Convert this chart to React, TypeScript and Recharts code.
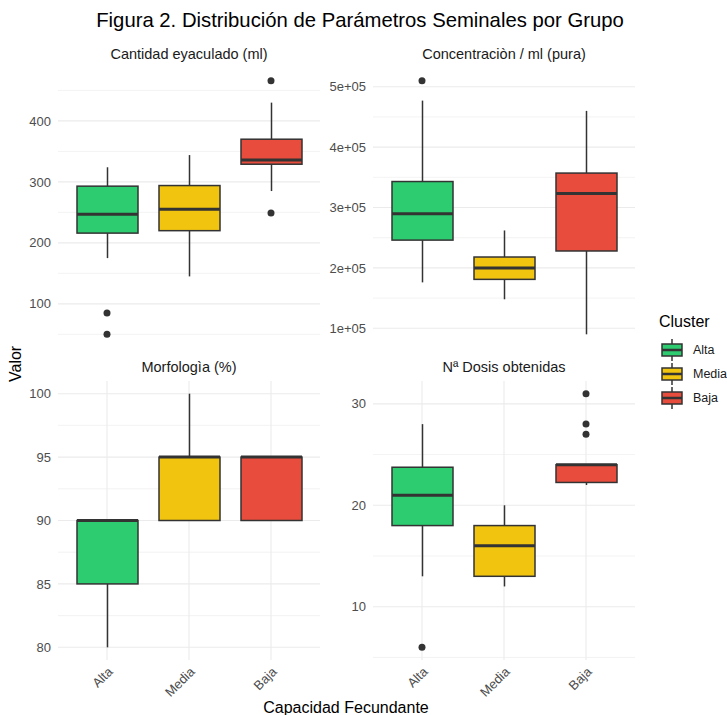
import React from "react";
import {
  ComposedChart,
  Bar,
  Cell,
  Scatter,
  XAxis,
  YAxis,
  CartesianGrid,
} from "recharts";

const FONT = '"Liberation Sans", Arial, sans-serif';
const groups = ["Alta", "Media", "Baja"];
const colors = ["#2ECC71", "#F1C40F", "#E74C3C"];

// each row: [lower whisker, Q1, median, Q3, upper whisker] for Alta, Media, Baja
const cantidadStats = [
  [175, 216, 247, 293, 324],
  [145, 220, 255, 294, 344],
  [285, 329, 336, 370, 430],
];
const cantidadOutliers = [
  { group: "Alta", value: 85 },
  { group: "Alta", value: 50 },
  { group: "Baja", value: 466 },
  { group: "Baja", value: 249 },
];
const cantidadTicks = [100, 200, 300, 400];
const cantidadMinor = [50, 150, 250, 350, 450];

const concStats = [
  [176000, 246000, 289500, 343000, 477000],
  [148000, 181000, 200000, 218000, 262000],
  [90000, 228000, 323000, 357000, 460000],
];
const concOutliers = [{ group: "Alta", value: 510000 }];
const concTicks = [100000, 200000, 300000, 400000, 500000];
const concMinor = [150000, 250000, 350000, 450000];

const morfStats = [
  [80, 85, 90, 90, 90],
  [90, 90, 95, 95, 100],
  [90, 90, 95, 95, 95],
];
const morfOutliers: { group: string; value: number }[] = [];
const morfTicks = [80, 85, 90, 95, 100];
const morfMinor = [82.5, 87.5, 92.5, 97.5];

const dosisStats = [
  [13, 18, 21, 23.75, 28],
  [12, 13, 16, 18, 20],
  [22, 22.25, 24, 24, 24],
];
const dosisOutliers = [
  { group: "Alta", value: 6 },
  { group: "Baja", value: 31 },
  { group: "Baja", value: 28 },
  { group: "Baja", value: 27 },
];
const dosisTicks = [10, 20, 30];
const dosisMinor = [5, 15, 25];

function toRows(stats: number[][]) {
  return stats.map((s, i) => ({
    group: groups[i],
    range: [s[0], s[4]],
    q1: s[1],
    med: s[2],
    q3: s[3],
  }));
}

// ggplot-like 5% expansion
function domainOf(stats: number[][], outliers: { value: number }[]) {
  const all = stats.flat().concat(outliers.map((o) => o.value));
  const lo = Math.min(...all);
  const hi = Math.max(...all);
  const pad = (hi - lo) * 0.05;
  return [lo - pad, hi + pad];
}

function BoxShape(props: any) {
  const { x, y, width, height, payload, fill } = props;
  const [lo, hi] = payload.range;
  const top = Math.min(y, y + height);
  const bottom = Math.max(y, y + height);
  const py = (v: number) => bottom - ((bottom - top) * (v - lo)) / (hi - lo);
  const cx = x + width / 2;
  return (
    <g>
      <line x1={cx} x2={cx} y1={py(hi)} y2={py(payload.q3)} stroke="#333" strokeWidth={1.5} />
      <line x1={cx} x2={cx} y1={py(payload.q1)} y2={py(lo)} stroke="#333" strokeWidth={1.5} />
      <rect
        x={x}
        y={py(payload.q3)}
        width={width}
        height={py(payload.q1) - py(payload.q3)}
        fill={fill}
        stroke="#333"
        strokeWidth={1.5}
      />
      <line x1={x} x2={x + width} y1={py(payload.med)} y2={py(payload.med)} stroke="#333" strokeWidth={3} />
    </g>
  );
}

const PLOT_W = 262;
const PLOT_H = 279;
const Y_W = 50;

function Panel({
  title,
  left,
  top,
  stats,
  outliers,
  ticks,
  minor,
  showX,
  fmt,
}: {
  title: string;
  left: number;
  top: number;
  stats: number[][];
  outliers: { group: string; value: number }[];
  ticks: number[];
  minor: number[];
  showX: boolean;
  fmt?: (v: number) => string;
}) {
  const xH = showX ? 50 : 0;
  return (
    <>
      <div
        style={{
          position: "absolute",
          left,
          top: top - 22,
          width: PLOT_W,
          textAlign: "center",
          fontSize: 14.5,
          color: "#1A1A1A",
          fontFamily: FONT,
        }}
      >
        {title}
      </div>
      <div style={{ position: "absolute", left: left - Y_W, top }}>
        <ComposedChart
          width={Y_W + PLOT_W}
          height={PLOT_H + xH}
          data={toRows(stats)}
          margin={{ top: 0, right: 0, bottom: 0, left: 0 }}
        >
          <CartesianGrid
            horizontalValues={minor}
            vertical={false}
            syncWithTicks
            stroke="#EBEBEB"
            strokeWidth={0.6}
          />
          <CartesianGrid syncWithTicks stroke="#EBEBEB" strokeWidth={1.1} />
          <XAxis
            dataKey="group"
            type="category"
            allowDuplicatedCategory={false}
            padding={{ left: 8, right: 8 }}
            axisLine={false}
            tickLine={false}
            height={xH}
            tickSize={0}
            tickMargin={6}
            tick={
              showX
                ? { angle: -45, textAnchor: "end", fontSize: 13, fill: "#4D4D4D", fontFamily: FONT }
                : false
            }
          />
          <YAxis
            type="number"
            domain={domainOf(stats, outliers)}
            allowDataOverflow
            ticks={ticks}
            interval={0}
            width={Y_W}
            axisLine={false}
            tickLine={false}
            tickSize={0}
            tickMargin={7}
            tickFormatter={fmt}
            tick={{ fontSize: 13, fill: "#4D4D4D", fontFamily: FONT }}
          />
          <Bar dataKey="range" barSize={61} shape={<BoxShape />} isAnimationActive={false}>
            {colors.map((c, i) => (
              <Cell key={i} fill={c} />
            ))}
          </Bar>
          {outliers.length > 0 && (
            <Scatter
              data={outliers}
              dataKey="value"
              fill="#333"
              shape={(p: any) => <circle cx={p.cx} cy={p.cy} r={3.5} fill="#333" />}
              isAnimationActive={false}
            />
          )}
        </ComposedChart>
      </div>
    </>
  );
}

function LegendKey({ color, label, top }: { color: string; label: string; top: number }) {
  return (
    <div style={{ position: "absolute", left: 659, top, height: 24, display: "flex", alignItems: "center" }}>
      <svg width={26} height={24}>
        <line x1={13} x2={13} y1={1} y2={23} stroke="#333" strokeWidth={1.5} />
        <rect x={3} y={6} width={20} height={12} fill={color} stroke="#333" strokeWidth={1.5} />
        <line x1={3} x2={23} y1={12} y2={12} stroke="#333" strokeWidth={2.5} />
      </svg>
      <span style={{ marginLeft: 8, fontSize: 12.5, color: "#1A1A1A", fontFamily: FONT }}>{label}</span>
    </div>
  );
}

export default function App() {
  const sci = (v: number) => `${v / 100000}e+05`;
  return (
    <div
      style={{
        position: "absolute",
        left: 0,
        top: 0,
        width: 727,
        height: 715,
        background: "#fff",
        overflow: "hidden",
        fontFamily: FONT,
      }}
    >
      <div
        style={{
          position: "absolute",
          left: 0,
          top: 9,
          width: 720,
          textAlign: "center",
          fontSize: 20.3,
          color: "#000",
        }}
      >
        Figura 2. Distribución de Parámetros Seminales por Grupo
      </div>
      <Panel
        title="Cantidad eyaculado (ml)"
        left={58}
        top={68}
        stats={cantidadStats}
        outliers={cantidadOutliers}
        ticks={cantidadTicks}
        minor={cantidadMinor}
        showX={false}
      />
      <Panel
        title="Concentraciòn / ml (pura)"
        left={373}
        top={68}
        stats={concStats}
        outliers={concOutliers}
        ticks={concTicks}
        minor={concMinor}
        showX={false}
        fmt={sci}
      />
      <Panel
        title="Morfologìa (%)"
        left={58}
        top={381}
        stats={morfStats}
        outliers={morfOutliers}
        ticks={morfTicks}
        minor={morfMinor}
        showX={true}
      />
      <Panel
        title="Nª Dosis obtenidas"
        left={373}
        top={381}
        stats={dosisStats}
        outliers={dosisOutliers}
        ticks={dosisTicks}
        minor={dosisMinor}
        showX={true}
      />
      <div
        style={{
          position: "absolute",
          left: 4,
          top: 370,
          fontSize: 16,
          color: "#000",
          transform: "translate(0, -50%) rotate(-90deg)",
          transformOrigin: "center",
          width: 24,
          textAlign: "center",
        }}
      >
        Valor
      </div>
      <div
        style={{
          position: "absolute",
          left: 58,
          top: 699,
          width: 576,
          textAlign: "center",
          fontSize: 16,
          color: "#000",
        }}
      >
        Capacidad Fecundante
      </div>
      <div style={{ position: "absolute", left: 659, top: 313, fontSize: 16, color: "#000" }}>Cluster</div>
      <LegendKey color={colors[0]} label="Alta" top={338} />
      <LegendKey color={colors[1]} label="Media" top={362} />
      <LegendKey color={colors[2]} label="Baja" top={386} />
    </div>
  );
}
